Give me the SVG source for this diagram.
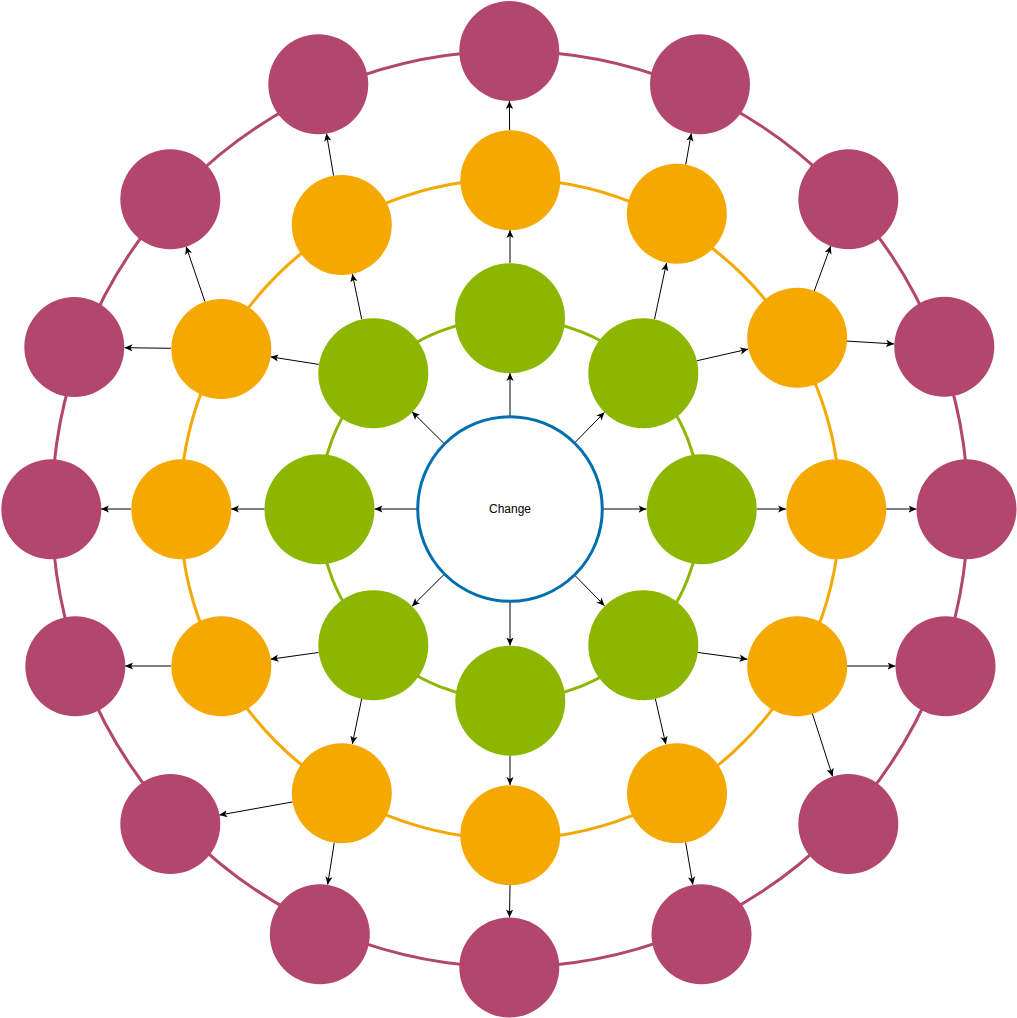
<svg xmlns="http://www.w3.org/2000/svg" width="1017" height="1018" viewBox="0 0 1017 1018">
<style>
.ring{fill:none;stroke-width:3}
.g{fill:#8DB600}
.o{fill:#F5A800}
.p{fill:#B3466C}
.e line{stroke:#000;stroke-width:1;marker-end:url(#arr)}
.lbl{font-family:"Liberation Sans",Arial,Helvetica,sans-serif;font-size:12px;fill:#000;text-anchor:middle}
</style>
<defs>
<marker id="arr" markerUnits="userSpaceOnUse" viewBox="0 0 9 8" markerWidth="9" markerHeight="8" refX="8" refY="4" orient="auto">
<path d="M0,0.4 L8,4 L0,7.6 L2,4 Z" fill="#000"/>
</marker>
</defs>
<rect width="1017" height="1018" fill="#fff"/>
<g id="rings">
<circle class="ring" cx="510" cy="509" r="458" stroke="#B3466C"/>
<circle class="ring" cx="510" cy="509" r="330" stroke="#F5A800"/>
<circle class="ring" cx="510" cy="509" r="191" stroke="#8DB600"/>
</g>
<g id="connectors" class="e">
<line x1="510" y1="416" x2="510" y2="373"/>
<line x1="575" y1="442.5" x2="604.5" y2="412.3"/>
<line x1="603" y1="509" x2="646.5" y2="509"/>
<line x1="575" y1="575.5" x2="604.5" y2="605.7"/>
<line x1="510" y1="602" x2="510" y2="645.5"/>
<line x1="444" y1="574.5" x2="412" y2="606.3"/>
<line x1="417" y1="509" x2="374.5" y2="509"/>
<line x1="444" y1="443.5" x2="412" y2="411.7"/>
<line x1="510" y1="263" x2="510" y2="230"/>
<line x1="654.5" y1="319.2" x2="666.5" y2="262.9"/>
<line x1="696.6" y1="360.8" x2="748.2" y2="349.1"/>
<line x1="756.5" y1="509" x2="786" y2="509"/>
<line x1="697.5" y1="652.4" x2="747.4" y2="659.2"/>
<line x1="655.3" y1="698.6" x2="665.8" y2="744.3"/>
<line x1="510" y1="755.5" x2="510" y2="785"/>
<line x1="361.7" y1="698.8" x2="352.3" y2="744.1"/>
<line x1="318.5" y1="652.5" x2="270.5" y2="659.2"/>
<line x1="264.5" y1="509" x2="231" y2="509"/>
<line x1="318.7" y1="364.4" x2="270.4" y2="356.8"/>
<line x1="361.7" y1="319.2" x2="352.3" y2="273.9"/>
<line x1="509.6" y1="130" x2="509.4" y2="101"/>
<line x1="685.7" y1="164.8" x2="691.3" y2="133.2"/>
<line x1="814.2" y1="291.1" x2="830.8" y2="245.9"/>
<line x1="846.9" y1="341.1" x2="894.1" y2="343.9"/>
<line x1="886" y1="509" x2="916.5" y2="509"/>
<line x1="847" y1="666" x2="895.5" y2="666"/>
<line x1="812.4" y1="713.6" x2="832.6" y2="776.4"/>
<line x1="685.6" y1="842.3" x2="692.9" y2="884.7"/>
<line x1="510" y1="885" x2="509.5" y2="917.5"/>
<line x1="334.3" y1="842.4" x2="327.7" y2="884.6"/>
<line x1="292.8" y1="801.9" x2="219.2" y2="815.1"/>
<line x1="171" y1="666" x2="125" y2="666"/>
<line x1="131" y1="509" x2="101" y2="509"/>
<line x1="171" y1="348.3" x2="124.5" y2="347.7"/>
<line x1="204.9" y1="301.6" x2="186.1" y2="246.4"/>
<line x1="333.6" y1="175.7" x2="326.4" y2="133.3"/>
</g>
<g id="center">
<circle cx="510" cy="509" r="92.3" fill="#fff" stroke="#006EAF" stroke-width="3"/>
<text class="lbl" x="510" y="513">Change</text>
</g>
<g id="g1"><circle class="g" cx="510" cy="318.3" r="55"/></g>
<g id="g2"><circle class="g" cx="643.3" cy="373.3" r="55"/></g>
<g id="g3"><circle class="g" cx="701.7" cy="509.3" r="55"/></g>
<g id="g4"><circle class="g" cx="643.3" cy="645.3" r="55"/></g>
<g id="g5"><circle class="g" cx="510.3" cy="700.7" r="55"/></g>
<g id="g6"><circle class="g" cx="373.3" cy="645.3" r="55"/></g>
<g id="g7"><circle class="g" cx="319.5" cy="509.3" r="55"/></g>
<g id="g8"><circle class="g" cx="373.3" cy="373.3" r="55"/></g>
<g id="o1"><circle class="o" cx="510.3" cy="180.3" r="50"/></g>
<g id="o2"><circle class="o" cx="676.8" cy="213.8" r="50"/></g>
<g id="o3"><circle class="o" cx="797.2" cy="337.8" r="50"/></g>
<g id="o4"><circle class="o" cx="836.3" cy="509.2" r="50"/></g>
<g id="o5"><circle class="o" cx="797.2" cy="666.3" r="50"/></g>
<g id="o6"><circle class="o" cx="677" cy="793.3" r="50"/></g>
<g id="o7"><circle class="o" cx="510.3" cy="835.3" r="50"/></g>
<g id="o8"><circle class="o" cx="341.8" cy="793.3" r="50"/></g>
<g id="o9"><circle class="o" cx="221.3" cy="666.3" r="50"/></g>
<g id="o10"><circle class="o" cx="181.3" cy="509.3" r="50"/></g>
<g id="o11"><circle class="o" cx="221.3" cy="349" r="50"/></g>
<g id="o12"><circle class="o" cx="341.8" cy="225" r="50"/></g>
<g id="p1"><circle class="p" cx="509.3" cy="51" r="50"/></g>
<g id="p2"><circle class="p" cx="700" cy="84.3" r="50"/></g>
<g id="p3"><circle class="p" cx="848.3" cy="199.3" r="50"/></g>
<g id="p4"><circle class="p" cx="944.3" cy="346.7" r="50"/></g>
<g id="p5"><circle class="p" cx="966.5" cy="509.2" r="50"/></g>
<g id="p6"><circle class="p" cx="945.5" cy="666.3" r="50"/></g>
<g id="p7"><circle class="p" cx="848.3" cy="824" r="50"/></g>
<g id="p8"><circle class="p" cx="701.5" cy="934.3" r="50"/></g>
<g id="p9"><circle class="p" cx="509.3" cy="967.5" r="50"/></g>
<g id="p10"><circle class="p" cx="319.8" cy="934.3" r="50"/></g>
<g id="p11"><circle class="p" cx="170.3" cy="824" r="50"/></g>
<g id="p12"><circle class="p" cx="75.3" cy="666.3" r="50"/></g>
<g id="p13"><circle class="p" cx="51.3" cy="509.3" r="50"/></g>
<g id="p14"><circle class="p" cx="74.3" cy="347" r="50"/></g>
<g id="p15"><circle class="p" cx="170.3" cy="199.3" r="50"/></g>
<g id="p16"><circle class="p" cx="318.3" cy="84.3" r="50"/></g>
</svg>
